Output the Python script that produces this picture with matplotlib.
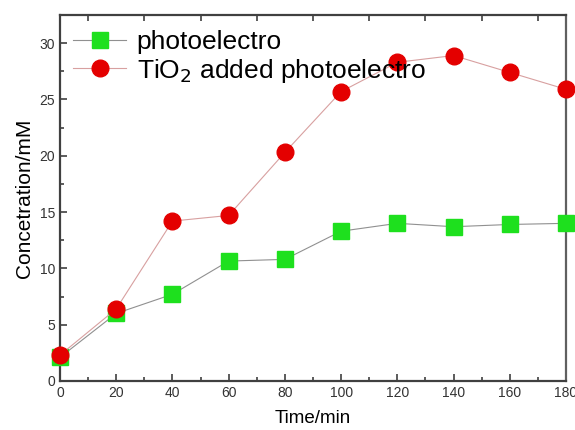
import matplotlib
matplotlib.use('Agg')
import matplotlib.pyplot as plt
from matplotlib.ticker import MultipleLocator, FixedLocator

plt.rcParams['font.family'] = ['Liberation Sans', 'DejaVu Sans']

# data
time_min = [0, 20, 40, 60, 80, 100, 120, 140, 160, 180]
photoelectro = [2.1, 6.0, 7.7, 10.65, 10.8, 13.3, 14.0, 13.7, 13.9, 14.0]
tio2_photoelectro = [2.3, 6.4, 14.2, 14.7, 20.3, 25.7, 28.3, 28.9, 27.4, 25.9]

fig = plt.figure(figsize=(5.75, 4.3), dpi=100)
ax = fig.add_axes([60/575, 1 - 381/430, 506/575, 366/430])

ax.plot(time_min, photoelectro, color='#909090', lw=0.8, marker='s', ms=11,
        mfc='#1ee01e', mec='#1ee01e', label='photoelectro', clip_on=False, zorder=3)
ax.plot(time_min, tio2_photoelectro, color='#d8a0a0', lw=0.8, marker='o', ms=12,
        mfc='#e40000', mec='#e40000', label='TiO$_2$ added photoelectro', clip_on=False, zorder=4)

ax.set_xlim(0, 180)
ax.set_ylim(0, 32.5)
ax.xaxis.set_major_locator(MultipleLocator(20))
ax.xaxis.set_minor_locator(MultipleLocator(10))
ax.yaxis.set_major_locator(MultipleLocator(5))
ax.yaxis.set_minor_locator(MultipleLocator(2.5))
ax.tick_params(which='both', direction='in', colors='#404040', labelcolor='#333333',
               labelsize=10, width=1.2)
ax.tick_params(which='major', length=5)
ax.tick_params(which='minor', length=3)

# top axis ticks at odd tens
top = ax.secondary_xaxis('top')
top.xaxis.set_major_locator(FixedLocator(list(range(10, 180, 20))))
top.tick_params(direction='in', length=4, width=1.2, colors='#404040', labeltop=False)
top.spines['top'].set_visible(False)

for s in ax.spines.values():
    s.set_color('#404040')
    s.set_linewidth(1.6)
ax.spines['right'].set_color('#606060')

ax.set_xlabel('Time/min', fontsize=13.5, labelpad=7)
ax.set_ylabel('Concetration/mM', fontsize=15, labelpad=4)

ax.legend(loc='upper left', fontsize=19, frameon=False, handlelength=2.0,
          borderaxespad=0.1, handletextpad=0.4, labelspacing=0.1,
          bbox_to_anchor=(0.0, 0.995))

fig.savefig('out.png', dpi=100)
